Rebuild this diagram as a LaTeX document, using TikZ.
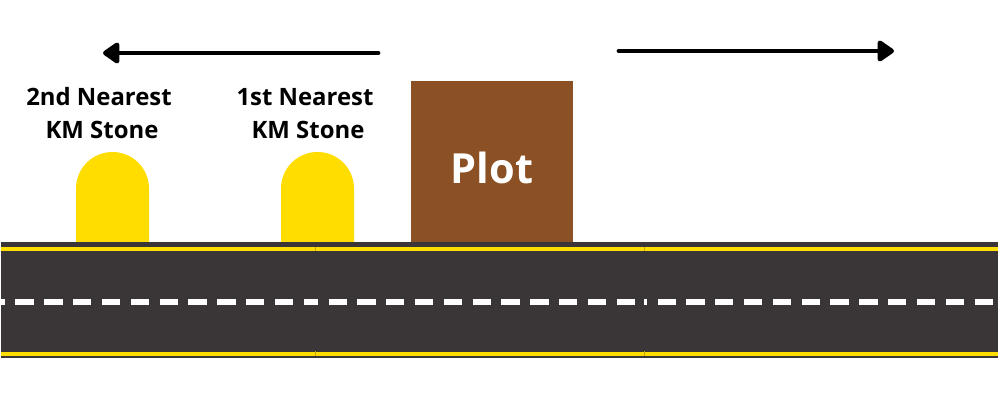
\documentclass[tikz,border=0pt]{standalone}
\usepackage{fontspec}
\setmainfont{Open Sans}
\usetikzlibrary{arrows.meta}
\definecolor{roadgrey}{RGB}{58,54,55}
\definecolor{stoneyellow}{RGB}{255,221,0}
\definecolor{plotbrown}{RGB}{139,80,35}

\begin{document}
\begin{tikzpicture}[
  x=0.025cm, y=0.025cm,
  lane/.style={draw=stoneyellow, line width=2.6pt},
  divider/.style={draw=white, line width=4pt, dash pattern=on 13pt off 7.5pt},
  stone/.style={fill=stoneyellow},
  stonelabel/.style={font=\fontsize{17}{23.5}\selectfont\bfseries, align=center, text=black},
  plotbox/.style={rectangle, fill=plotbrown, minimum size=4.025cm, inner sep=0pt, font=\fontsize{29.5}{36}\selectfont\bfseries, text=white},
  dirarrow/.style={-{Triangle[length=13pt,width=17pt,round]}, line width=3.5pt, line cap=round, draw=black}
]
\useasboundingbox (0,0) rectangle (1000,400);

% road
\fill[roadgrey] (1,42) rectangle (998,158);
\draw[lane] (1,151) -- (998,151);
\draw[lane] (1,46.3) -- (998,46.3);
\draw[divider, dash phase=10.2pt] (1,98) -- (315,98);
\draw[divider, dash phase=10.9pt] (315,98) -- (644,98);
\draw[divider, dash phase=10.9pt] (644,98) -- (998,98);
\foreach \xseam in {315,644} {
  \draw[stoneyellow!75!black, line width=0.4pt] (\xseam,149) -- (\xseam,153);
  \draw[stoneyellow!75!black, line width=0.4pt] (\xseam,44) -- (\xseam,48.5);
}

% stones
\foreach \xstone in {76,281} {
  \fill[stone] (\xstone,158) -- (\xstone,211.5) arc[start angle=180, end angle=0, radius=36.5] -- (\xstone+73,158) -- cycle;
}
\node[stonelabel] (secondlabel) at (99,286.5) {2nd Nearest\\\hspace*{4.3pt}KM Stone};
\node[stonelabel] (firstlabel) at (305,286.5) {1st Nearest\\\hspace*{4.3pt}KM Stone};
\node[plotbox] (plot) at (492,238.5) {\smash{\raisebox{-16pt}{Plot}}};

% directions
\coordinate (leftstart) at (378,347);
\coordinate (leftend) at (103,347);
\coordinate (rightstart) at (619,349);
\coordinate (rightend) at (894,349);
\draw[dirarrow] (leftstart) -- (leftend);
\draw[dirarrow] (rightstart) -- (rightend);
\end{tikzpicture}
\end{document}
